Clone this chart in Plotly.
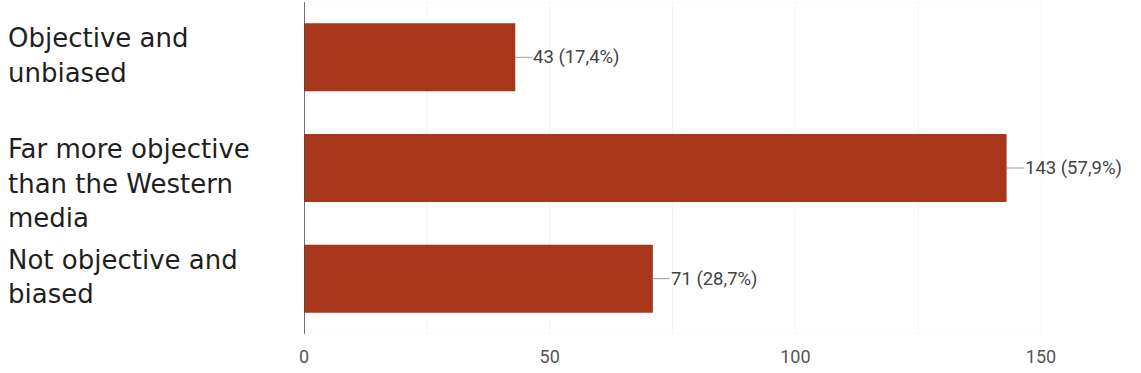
import plotly.graph_objects as go

categories = ["Objective and<br>unbiased",
              "Far more objective<br>than the Western<br>media",
              "Not objective and<br>biased"]
counts = [43, 143, 71]
percents = ["17,4%", "57,9%", "28,7%"]
x_ticks = [0, 50, 100, 150]

BAR_COLOR = "#a8361a"
W, H = 1141, 373
L, R, T, B = 304, 100, 2, 39

ypos = list(range(len(categories)))

fig = go.Figure()
fig.add_trace(go.Bar(
    x=counts, y=ypos, orientation="h",
    marker=dict(color=BAR_COLOR, line=dict(width=0)),
    width=0.615, hoverinfo="skip",
))

annotations = []
# value labels with leader lines
for i, (c, p) in enumerate(zip(counts, percents)):
    annotations.append(dict(
        x=c, y=i, xref="x", yref="y",
        text=f"{c} ({p})", showarrow=True, arrowhead=0, arrowwidth=1,
        arrowcolor="#9a9a9a", ax=17, ay=0, xanchor="left", standoff=0,
        font=dict(family="Roboto, Arial, sans-serif", size=18.5, color="#444444"),
        borderpad=0,
    ))
# category labels, one annotation per line
LINE_H = 34.5
for i, lab in enumerate(categories):
    lines = lab.split("<br>")
    for k, ln in enumerate(lines):
        annotations.append(dict(
            x=-(L - 6) / (W - L - R), xref="paper", y=i, yref="y",
            text=ln, showarrow=False, xanchor="left", yanchor="middle",
            yshift=-(-19 + LINE_H * k),
            font=dict(family="DejaVu Sans, sans-serif", size=26, color="#1f1f1f"),
        ))

fig.update_layout(
    width=W, height=H,
    margin=dict(l=L, r=R, t=T, b=B, pad=0),
    paper_bgcolor="white", plot_bgcolor="white",
    showlegend=False, bargap=0.385,
    annotations=annotations,
    xaxis=dict(range=[0, 150], tickvals=x_ticks, ticktext=[str(v) for v in x_ticks],
               showgrid=False, zeroline=False, showline=False,
               tickfont=dict(family="Roboto, Arial, sans-serif", size=18, color="#555555"),
               ticks="", ticklen=0, ticklabelstandoff=10, fixedrange=True),
    yaxis=dict(range=[2.5, -0.5], showticklabels=False, showgrid=False,
               zeroline=False, showline=False, ticks="", fixedrange=True),
)
# faint gridlines every 25 and plot frame
for v in range(25, 151, 25):
    fig.add_vline(x=v, line=dict(color="#f5f5f5", width=1), layer="below")
fig.add_hline(y=2.5, line=dict(color="#f3f3f3", width=1), layer="below")
fig.add_hline(y=-0.5, line=dict(color="#f7f7f7", width=1), layer="below")
fig.add_vline(x=0, line=dict(color="#444444", width=1.5), layer="above")

fig.write_html("out.html")
